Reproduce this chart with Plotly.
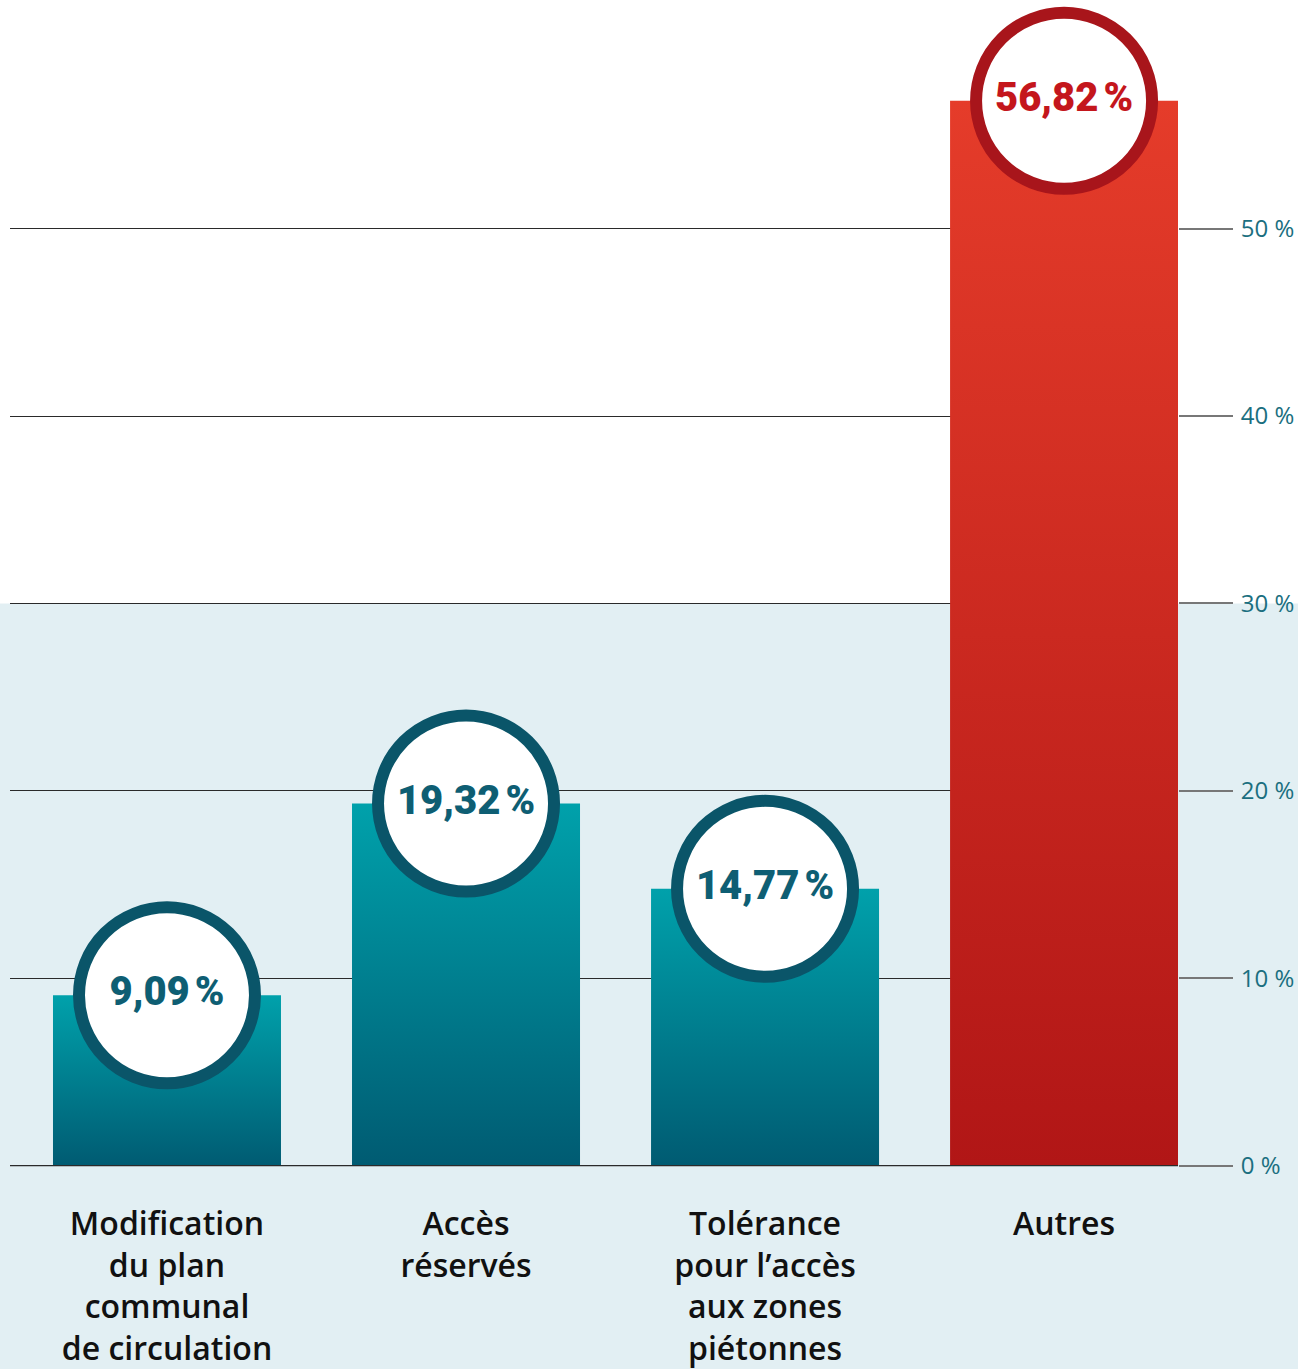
import plotly.graph_objects as go

categories = ["Modification<br>du plan<br>communal<br>de circulation",
              "Accès<br>réservés",
              "Tolérance<br>pour l’accès<br>aux zones<br>piétonnes",
              "Autres"]
values = [9.09, 19.32, 14.77, 56.82]
value_labels = ["9,09\u202f%", "19,32\u202f%", "14,77\u202f%", "56,82\u202f%"]
tick_vals = [0, 10, 20, 30, 40, 50]
tick_text = ["0 %", "10 %", "20 %", "30 %", "40 %", "50 %"]

TEAL_TOP, TEAL_BOT = "#00a1ab", "#005b72"
RED_TOP, RED_BOT = "#e53c2a", "#b11616"
TEAL_RING, RED_RING = "#0a5569", "#a8151b"
TEAL_TXT, RED_TXT = "#0e5e73", "#c4161c"
BG_BLUE = "#e2eff3"

W, H = 1298, 1369
M_L, M_R, M_T, M_B = 10, 120, 0, 192
Y_MIN, Y_MAX = -0.5, 62.2
X_MIN, X_MAX = -0.525, 3.381
BAR_W = 0.7625
WHITE_FROM = 30  # background white above this value

fig = go.Figure()

x_idx = list(range(len(values)))
for i, v in zip(x_idx, values):
    top, bot = (RED_TOP, RED_BOT) if i == 3 else (TEAL_TOP, TEAL_BOT)
    x0, x1 = i - BAR_W / 2, i + BAR_W / 2
    fig.add_trace(go.Scatter(
        x=[x0, x1, x1, x0, x0], y=[0, 0, v, v, 0],
        mode="lines", line=dict(width=0), fill="toself",
        fillgradient=dict(type="vertical",
                          colorscale=[[0, bot], [1, top]]),
        hoverinfo="skip", showlegend=False))

# baseline drawn over bar bottoms
fig.add_shape(type="line", xref="paper", yref="y", x0=0, x1=1, y0=0, y1=0,
              line=dict(color="#2a2a2a", width=1.2), layer="above")

ring_colors = [TEAL_RING, TEAL_RING, TEAL_RING, RED_RING]
txt_colors = [TEAL_TXT, TEAL_TXT, TEAL_TXT, RED_TXT]
fig.add_trace(go.Scatter(
    x=x_idx, y=values, mode="markers+text",
    marker=dict(size=176, color="white",
                line=dict(width=12, color=ring_colors)),
    text=value_labels, textposition="middle center",
    textfont=dict(family="Roboto", size=40, color=txt_colors, weight=900),
    cliponaxis=False, hoverinfo="skip", showlegend=False))

white_y0 = (WHITE_FROM - Y_MIN) / (Y_MAX - Y_MIN)
fig.add_shape(type="rect", xref="paper", yref="paper",
              x0=-0.05, x1=1.2, y0=white_y0, y1=1.05,
              fillcolor="white", line=dict(width=0), layer="below")

fig.update_layout(
    width=W, height=H,
    margin=dict(l=M_L, r=M_R, t=M_T, b=M_B),
    paper_bgcolor=BG_BLUE, plot_bgcolor="rgba(0,0,0,0)",
    xaxis=dict(range=[X_MIN, X_MAX], tickvals=x_idx, ticktext=categories,
               showgrid=False, zeroline=False, showline=False,
               ticks="", ticklabelstandoff=27,
               tickfont=dict(family="Open Sans", size=32,
                             color="#111111", weight=600)),
    yaxis=dict(range=[Y_MIN, Y_MAX], side="right", tickvals=tick_vals,
               ticktext=tick_text, showgrid=True, gridcolor="#2a2a2a",
               gridwidth=1, zeroline=False, showline=False,
               ticks="outside", ticklen=54, tickcolor="#777777",
               tickwidth=1.5, ticklabelstandoff=3,
               tickfont=dict(family="Open Sans", size=24,
                             color="#1b6f80")),
)

fig.write_html("out.html", config={"displayModeBar": False},
               post_script="document.body.style.margin='0';document.body.style.overflow='hidden';")
